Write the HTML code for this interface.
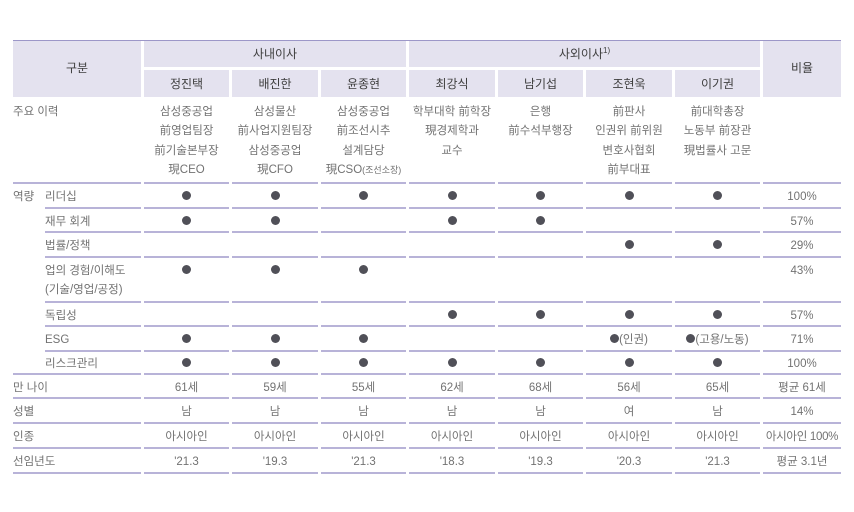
<!DOCTYPE html>
<html><head><meta charset="utf-8">
<style>
*{margin:0;padding:0;box-sizing:border-box}
html,body{width:854px;height:512px;background:#fff;overflow:hidden}
body{position:relative;font-family:"Liberation Sans","Noto Sans CJK KR",sans-serif;color:#727272;font-size:11.5px}
.hb{position:absolute;background:#e4e2ef;color:#3e3e3e;font-size:12px;text-align:center}
.r{position:absolute;left:0;width:854px}
.r>div{position:absolute;top:0;height:100%;border-bottom:2px solid #b8b3d8;text-align:center;white-space:nowrap;padding-top:2px}
.L{left:13px;width:128px;text-align:left!important}
.S{left:45px;width:96px;text-align:left!important}
.SL{left:13px;width:128px;padding-left:32px;text-align:left!important}
.c1{left:144px;width:85px}.c2{left:232px;width:86px}.c3{left:321px;width:85px}.c4{left:409px;width:86px}
.c5{left:498px;width:85px}.c6{left:586px;width:86px}.c7{left:675px;width:85px}.c8{left:763px;width:78px}
.d{display:inline-block;width:9px;height:9px;border-radius:50%;background:#505058;vertical-align:middle;margin-top:-2px}
.sm{font-size:9px}
sup{font-size:8px;vertical-align:5px;line-height:0}
.top>div{padding-top:5.5px!important}
.biz>div{padding-top:3.5px!important}
</style></head><body>
<div style="position:absolute;left:13px;top:40px;width:828px;height:1px;background:#9c97c8"></div>
<div class="hb" style="left:13px;top:41px;width:128px;height:56px;line-height:54px">구분</div>
<div class="hb" style="left:144px;top:41px;width:262px;height:26px;line-height:26px">사내이사</div>
<div class="hb" style="left:409px;top:41px;width:351px;height:26px;line-height:26px">사외이사<sup>1)</sup></div>
<div class="hb" style="left:763px;top:41px;width:78px;height:56px;line-height:54px">비율</div>
<div class="hb" style="left:144px;top:70px;width:85px;height:27px;line-height:28px">정진택</div>
<div class="hb" style="left:232px;top:70px;width:86px;height:27px;line-height:28px">배진한</div>
<div class="hb" style="left:321px;top:70px;width:85px;height:27px;line-height:28px">윤종현</div>
<div class="hb" style="left:409px;top:70px;width:86px;height:27px;line-height:28px">최강식</div>
<div class="hb" style="left:498px;top:70px;width:85px;height:27px;line-height:28px">남기섭</div>
<div class="hb" style="left:586px;top:70px;width:86px;height:27px;line-height:28px">조현욱</div>
<div class="hb" style="left:675px;top:70px;width:85px;height:27px;line-height:28px">이기권</div>

<div class="r top" style="top:97px;height:87px;line-height:19.6px">
<div class="L">주요 이력</div>
<div class="c1">삼성중공업<br>前영업팀장<br>前기술본부장<br>現CEO</div>
<div class="c2">삼성물산<br>前사업지원팀장<br>삼성중공업<br>現CFO</div>
<div class="c3">삼성중공업<br>前조선시추<br>설계담당<br>現CSO<span class="sm">(조선소장)</span></div>
<div class="c4">학부대학 前학장<br>現경제학과<br>교수</div>
<div class="c5">은행<br>前수석부행장</div>
<div class="c6">前판사<br>인권위 前위원<br>변호사협회<br>前부대표</div>
<div class="c7">前대학총장<br>노동부 前장관<br>現법률사 고문</div>
<div class="c8"></div>
</div>

<div style="position:absolute;left:13px;top:186px;line-height:23px">역량</div>

<div class="r" style="top:184px;height:25px;line-height:23px">
<div class="S">리더십</div>
<div class="c1"><span class="d"></span></div><div class="c2"><span class="d"></span></div><div class="c3"><span class="d"></span></div>
<div class="c4"><span class="d"></span></div><div class="c5"><span class="d"></span></div><div class="c6"><span class="d"></span></div><div class="c7"><span class="d"></span></div>
<div class="c8">100%</div>
</div>

<div class="r" style="top:209px;height:24px;line-height:22px">
<div class="S">재무 회계</div>
<div class="c1"><span class="d"></span></div><div class="c2"><span class="d"></span></div><div class="c3"></div>
<div class="c4"><span class="d"></span></div><div class="c5"><span class="d"></span></div><div class="c6"></div><div class="c7"></div>
<div class="c8">57%</div>
</div>

<div class="r" style="top:233px;height:25px;line-height:23px">
<div class="S">법률/정책</div>
<div class="c1"></div><div class="c2"></div><div class="c3"></div>
<div class="c4"></div><div class="c5"></div><div class="c6"><span class="d"></span></div><div class="c7"><span class="d"></span></div>
<div class="c8">29%</div>
</div>

<div class="r biz" style="top:258px;height:45px;line-height:19.5px">
<div class="S">업의 경험/이해도<br>(기술/영업/공정)</div>
<div class="c1"><span class="d"></span></div><div class="c2"><span class="d"></span></div><div class="c3"><span class="d"></span></div>
<div class="c4"></div><div class="c5"></div><div class="c6"></div><div class="c7"></div>
<div class="c8">43%</div>
</div>

<div class="r" style="top:303px;height:24px;line-height:22px">
<div class="S">독립성</div>
<div class="c1"></div><div class="c2"></div><div class="c3"></div>
<div class="c4"><span class="d"></span></div><div class="c5"><span class="d"></span></div><div class="c6"><span class="d"></span></div><div class="c7"><span class="d"></span></div>
<div class="c8">57%</div>
</div>

<div class="r" style="top:327px;height:25px;line-height:23px">
<div class="S">ESG</div>
<div class="c1"><span class="d"></span></div><div class="c2"><span class="d"></span></div><div class="c3"><span class="d"></span></div>
<div class="c4"></div><div class="c5"></div><div class="c6"><span class="d"></span>(인권)</div><div class="c7"><span class="d"></span>(고용/노동)</div>
<div class="c8">71%</div>
</div>

<div class="r" style="top:352px;height:23px;line-height:21px">
<div class="SL">리스크관리</div>
<div class="c1"><span class="d"></span></div><div class="c2"><span class="d"></span></div><div class="c3"><span class="d"></span></div>
<div class="c4"><span class="d"></span></div><div class="c5"><span class="d"></span></div><div class="c6"><span class="d"></span></div><div class="c7"><span class="d"></span></div>
<div class="c8">100%</div>
</div>

<div class="r" style="top:375px;height:24px;line-height:22px">
<div class="L">만 나이</div>
<div class="c1">61세</div><div class="c2">59세</div><div class="c3">55세</div>
<div class="c4">62세</div><div class="c5">68세</div><div class="c6">56세</div><div class="c7">65세</div>
<div class="c8">평균 61세</div>
</div>

<div class="r" style="top:399px;height:25px;line-height:23px">
<div class="L">성별</div>
<div class="c1">남</div><div class="c2">남</div><div class="c3">남</div>
<div class="c4">남</div><div class="c5">남</div><div class="c6">여</div><div class="c7">남</div>
<div class="c8">14%</div>
</div>

<div class="r" style="top:424px;height:25px;line-height:23px">
<div class="L">인종</div>
<div class="c1">아시아인</div><div class="c2">아시아인</div><div class="c3">아시아인</div>
<div class="c4">아시아인</div><div class="c5">아시아인</div><div class="c6">아시아인</div><div class="c7">아시아인</div>
<div class="c8" style="letter-spacing:-0.3px">아시아인 100%</div>
</div>

<div class="r" style="top:449px;height:25px;line-height:23px">
<div class="L">선임년도</div>
<div class="c1">'21.3</div><div class="c2">'19.3</div><div class="c3">'21.3</div>
<div class="c4">'18.3</div><div class="c5">'19.3</div><div class="c6">'20.3</div><div class="c7">'21.3</div>
<div class="c8">평균 3.1년</div>
</div>
</body></html>
